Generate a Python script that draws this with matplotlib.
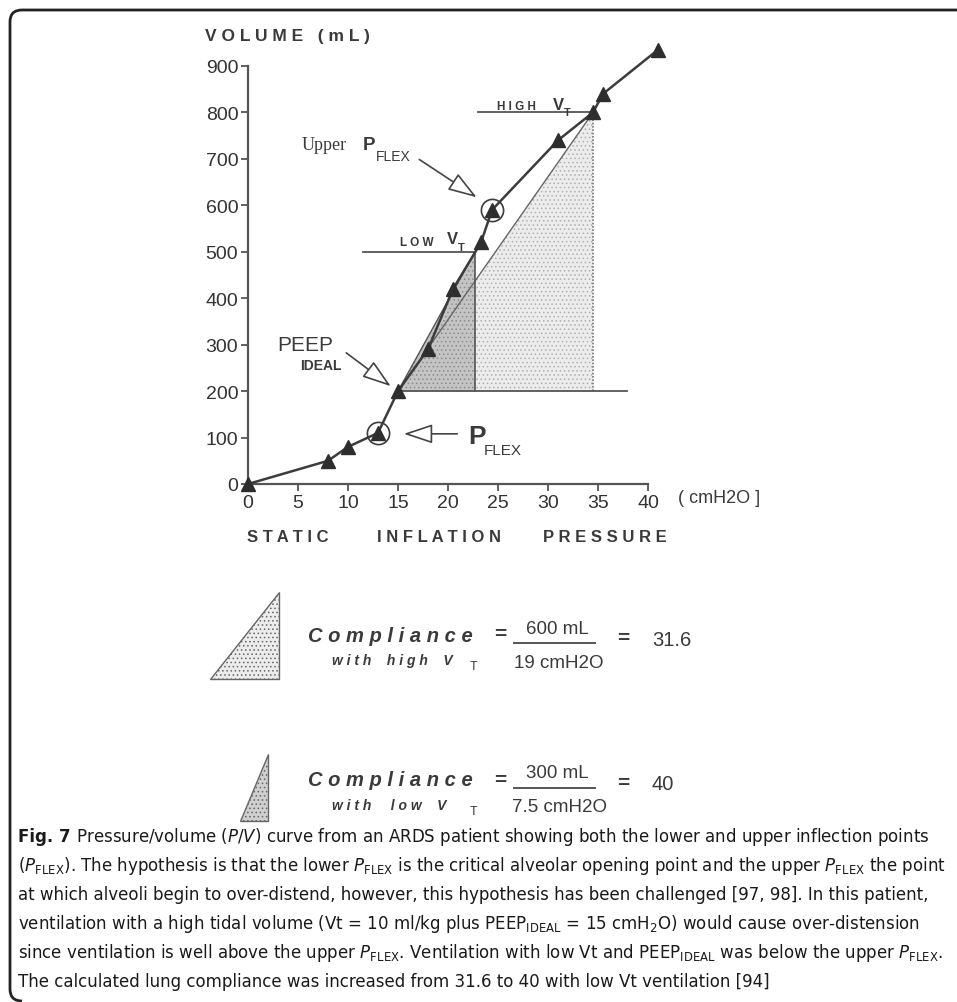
import matplotlib
matplotlib.use("Agg")
import matplotlib.pyplot as plt
from matplotlib import font_manager
from matplotlib.patches import Polygon, FancyArrowPatch, PathPatch
from matplotlib.path import Path

W, H = 957, 1003

# P/V curve (static inflation pressure in cmH2O, volume in mL)
pressure = [0, 8, 10, 13, 15, 18, 20.5, 23.3, 24.4, 31, 34.5, 35.5, 41]
volume = [0, 50, 80, 110, 200, 290, 420, 520, 590, 740, 800, 840, 935]
circled = [3, 8]  # lower and upper P_FLEX

x_ticks = [0, 5, 10, 15, 20, 25, 30, 35, 40]
y_ticks = [0, 100, 200, 300, 400, 500, 600, 700, 800, 900]

# compliance triangles: (pressure, volume)
peep_ideal = (15, 200)
low_vt = (22.7, 500)
high_vt = (34.5, 800)
base_end = 37.9
low_vt_from = 11.5
high_vt_from = 23.0

compliance_rows = [
    ("w i t h    h i g h    V", "600 mL", "19 cmH2O", "31.6"),
    ("w i t h     l o w    V", "300 mL", "7.5 cmH2O", "40"),
]

caption_head = "Fig. 7"
caption_lines = [
    r" Pressure/volume ($P/V$) curve from an ARDS patient showing both the lower and upper inflection points",
    r"($P_{\mathrm{FLEX}}$). The hypothesis is that the lower $P_{\mathrm{FLEX}}$ is the critical alveolar opening point and the upper $P_{\mathrm{FLEX}}$ the point",
    r"at which alveoli begin to over-distend, however, this hypothesis has been challenged [97, 98]. In this patient,",
    r"ventilation with a high tidal volume (Vt = 10 ml/kg plus PEEP$_{\mathrm{IDEAL}}$ = 15 cmH$_{2}$O) would cause over-distension",
    r"since ventilation is well above the upper $P_{\mathrm{FLEX}}$. Ventilation with low Vt and PEEP$_{\mathrm{IDEAL}}$ was below the upper $P_{\mathrm{FLEX}}$.",
    r"The calculated lung compliance was increased from 31.6 to 40 with low Vt ventilation [94]",
]

installed = {f.name for f in font_manager.fontManager.ttflist}
cap_font = "Liberation Sans Narrow" if "Liberation Sans Narrow" in installed else "DejaVu Sans"
plt.rcParams["mathtext.fontset"] = "custom"
plt.rcParams["mathtext.rm"] = cap_font
plt.rcParams["mathtext.it"] = cap_font + ":italic"
plt.rcParams["hatch.linewidth"] = 0.6

SANS = "Liberation Sans"
INK = "#3a3a3a"


def fx(x):
    return x / W


def fy(y):
    return 1 - y / H


fig = plt.figure(figsize=(W / 100, H / 100), dpi=100)
ax = fig.add_axes([fx(248), fy(485), 400 / W, 418 / H])
ax.set_xlim(0, 40)
ax.set_ylim(0, 900)
for side in ("top", "right"):
    ax.spines[side].set_visible(False)
for side in ("left", "bottom"):
    ax.spines[side].set_color("#555555")
    ax.spines[side].set_linewidth(1.6)
ax.set_xticks(x_ticks)
ax.set_yticks(y_ticks)
ax.tick_params(direction="out", length=5, width=1.3, color="#555555",
               labelsize=14, labelcolor="#333333", pad=2)
for lab in ax.get_xticklabels() + ax.get_yticklabels():
    lab.set_family(SANS)
ax.patch.set_alpha(0)

# shaded compliance triangles
light = Polygon([peep_ideal, high_vt, (high_vt[0], peep_ideal[1])], closed=True,
                facecolor="#ececec", edgecolor="#b0b0b0", hatch="....", lw=0, zorder=1)
dark = Polygon([peep_ideal, low_vt, (low_vt[0], peep_ideal[1])], closed=True,
               facecolor="#c4c4c4", edgecolor="#8c8c8c", hatch="....", lw=0, zorder=2)
ax.add_patch(light)
ax.add_patch(dark)
ax.plot([peep_ideal[0], high_vt[0]], [peep_ideal[1], high_vt[1]], color="#666666", lw=1.0, zorder=3)
ax.plot([peep_ideal[0], low_vt[0]], [peep_ideal[1], low_vt[1]], color="#555555", lw=1.0, zorder=3)
ax.plot([high_vt[0]] * 2, [peep_ideal[1], high_vt[1]], color="#777777", lw=1.2, ls=(0, (1, 1)), zorder=3)
ax.plot([low_vt[0]] * 2, [peep_ideal[1], low_vt[1]], color="#555555", lw=1.2, zorder=3)
ax.plot([peep_ideal[0], base_end], [peep_ideal[1]] * 2, color="#555555", lw=1.3, zorder=3)
ax.plot([low_vt_from, low_vt[0]], [low_vt[1]] * 2, color="#555555", lw=1.3, zorder=3)
ax.plot([high_vt_from, high_vt[0]], [high_vt[1]] * 2, color="#555555", lw=1.3, zorder=3)

# the curve itself
ax.plot(pressure, volume, color="#3c3c3c", lw=1.8, marker="^", ms=10,
        mfc="#2e2e2e", mec="#2e2e2e", clip_on=False, zorder=5)
ax.plot([pressure[i] for i in circled], [volume[i] for i in circled], ls="none",
        marker="o", ms=16, mfc="none", mec="#3c3c3c", mew=1.2, clip_on=False, zorder=6)


def hollow_arrow(tail, tip):
    ax.add_patch(FancyArrowPatch(tail, tip, arrowstyle="-|>,head_length=1.5,head_width=0.5",
                                 mutation_scale=12, fc="white", ec="#444444", lw=1.2,
                                 clip_on=False, zorder=7))


hollow_arrow((16.9, 702), (23.1, 614))
hollow_arrow((9.6, 286), (14.5, 207))
hollow_arrow((21.2, 108), (15.3, 108))

ax.text(5.4, 730, "Upper", family="Liberation Serif", fontsize=13, color=INK, va="center")
ax.text(11.5, 730, "P", family=SANS, fontsize=13.5, weight="bold", color=INK, va="center")
ax.text(12.8, 706, "FLEX", family=SANS, fontsize=10, color=INK, va="center")
ax.text(2.9, 301, "PEEP", family=SANS, fontsize=15, color=INK, va="center")
ax.text(5.2, 256, "IDEAL", family=SANS, fontsize=10, weight="bold", color=INK, va="center")
ax.text(22.0, 103, "P", family=SANS, fontsize=19, weight="bold", color=INK, va="center")
ax.text(23.6, 74, "FLEX", family=SANS, fontsize=11, color=INK, va="center")
ax.text(24.9, 814, "H I G H", family=SANS, fontsize=8.5, weight="bold", color=INK, va="center")
ax.text(30.5, 818, "V", family=SANS, fontsize=12, weight="bold", color=INK, va="center")
ax.text(31.6, 800, "T", family=SANS, fontsize=8, weight="bold", color=INK, va="center")
ax.text(15.2, 521, "L O W", family=SANS, fontsize=8.5, weight="bold", color=INK, va="center")
ax.text(19.9, 528, "V", family=SANS, fontsize=12, weight="bold", color=INK, va="center")
ax.text(21.0, 510, "T", family=SANS, fontsize=8, weight="bold", color=INK, va="center")

ax.text(43.0, -28, "( cmH2O ]", family=SANS, fontsize=13, color=INK, va="center")
ax.text(-0.1, -112, "S T A T I C", family=SANS, fontsize=12, weight="bold", color=INK, va="center")
ax.text(12.9, -112, "I N F L A T I O N", family=SANS, fontsize=12, weight="bold", color=INK, va="center")
ax.text(29.5, -112, "P R E S S U R E", family=SANS, fontsize=12, weight="bold", color=INK, va="center")
fig.text(fx(205), fy(37), "V O L U M E   ( m L )", family=SANS, fontsize=12.5,
         weight="bold", color=INK, va="center")

# compliance formulas with their triangle icons
icons = [
    [(210, 680), (279, 680), (279, 593)],
    [(240, 822), (268, 822), (268, 755)],
]
icon_faces = ["#ececec", "#cfcfcf"]
rows_y = [636, 781]
for (sub, num, den, val), tri, face, yc in zip(compliance_rows, icons, icon_faces, rows_y):
    pts = [(fx(px), fy(py)) for px, py in tri]
    fig.patches.append(Polygon(pts, closed=True, transform=fig.transFigure, facecolor=face,
                               edgecolor="#666666", hatch="....", lw=1.0))
    fig.text(fx(308), fy(yc), "C o m p l i a n c e", family=SANS, fontsize=14.5,
             weight="bold", style="italic", color=INK, va="center")
    fig.text(fx(332), fy(yc + 25), sub, family=SANS, fontsize=10,
             weight="bold", style="italic", color=INK, va="center")
    fig.text(fx(470), fy(yc + 31), "T", family=SANS, fontsize=9, color=INK, va="center")
    fig.text(fx(500), fy(yc - 1), "=", family=SANS, fontsize=15, weight="bold", color=INK,
             va="center", ha="center")
    fig.text(fx(557), fy(yc - 7), num, family=SANS, fontsize=13.5, color=INK, va="center", ha="center")
    fig.add_artist(plt.Line2D([fx(514), fx(595)], [fy(yc + 8)] * 2, color="#555555", lw=1.4))
    fig.text(fx(559), fy(yc + 27), den, family=SANS, fontsize=13.5, color=INK, va="center", ha="center")
    fig.text(fx(623), fy(yc + 3), "=", family=SANS, fontsize=15, weight="bold", color=INK,
             va="center", ha="center")
    fig.text(fx(652), fy(yc + 4), val, family=SANS, fontsize=14.5, color=INK, va="center")

# frame around the figure and its caption (open on the right)
verts = [(W + 60, 11), (22, 11), (10, 11), (10, 23), (10, 990), (10, 1002), (22, 1002)]
codes = [Path.MOVETO, Path.LINETO, Path.CURVE3, Path.CURVE3, Path.LINETO, Path.CURVE3, Path.CURVE3]
frame = Path([(fx(x), fy(y)) for x, y in verts], codes)
fig.patches.append(PathPatch(frame, transform=fig.transFigure, fill=False, ec="#222222", lw=2))

# caption, sized so the first line spans the text block
fig.canvas.draw()
renderer = fig.canvas.get_renderer()
probe_head = fig.text(0, 0, caption_head, family=cap_font, weight="bold", fontsize=12)
probe_rest = fig.text(0, 0, caption_lines[0], family=cap_font, fontsize=12)
w0 = probe_head.get_window_extent(renderer).width + probe_rest.get_window_extent(renderer).width
probe_head.remove()
probe_rest.remove()
cap_size = 12 * 912 / w0

x0 = 18
baseline0 = 842
step = 29
head = fig.text(fx(x0), fy(baseline0), caption_head, family=cap_font, weight="bold",
                fontsize=cap_size, color="#1a1a1a", va="baseline")
hw = head.get_window_extent(renderer).width
for i, line in enumerate(caption_lines):
    xs = x0 + hw if i == 0 else x0
    fig.text(fx(xs), fy(baseline0 + i * step), line, family=cap_font, fontsize=cap_size,
             color="#1a1a1a", va="baseline")

fig.savefig("out.png", dpi=100, facecolor="white")
